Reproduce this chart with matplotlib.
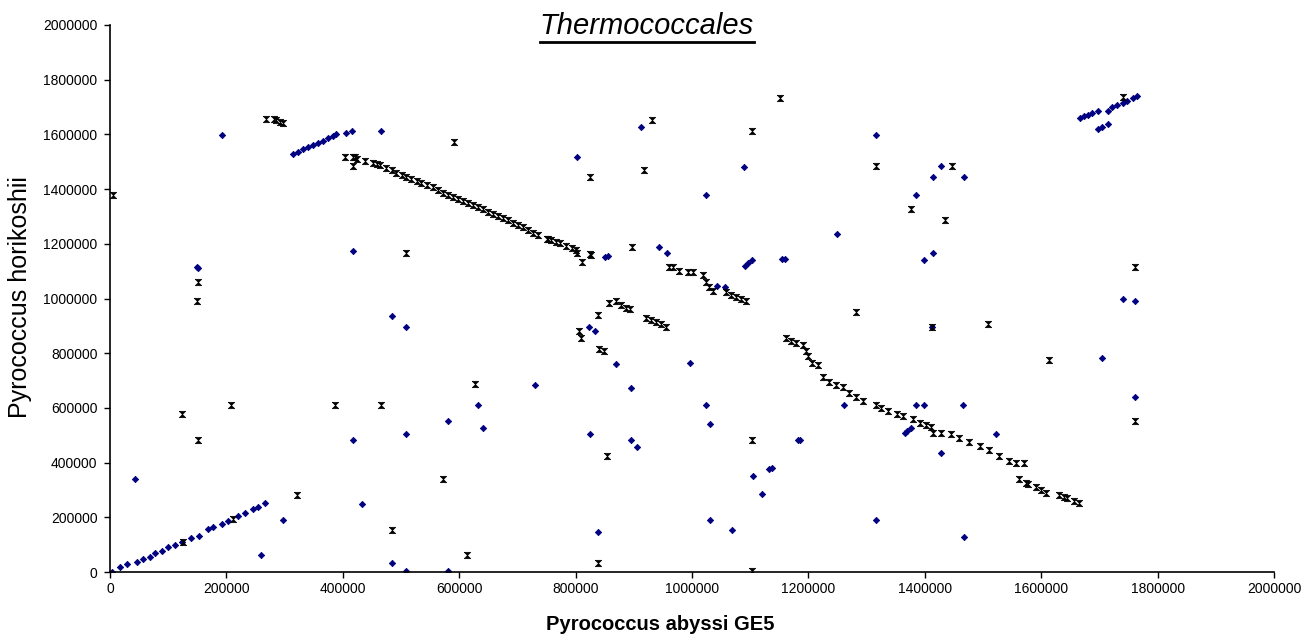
import matplotlib
matplotlib.use("Agg")
import matplotlib.pyplot as plt
from matplotlib.lines import Line2D

plt.rcParams['font.family'] = ['Liberation Sans', 'DejaVu Sans']

# Blue series (diamond markers): position in P. abyssi GE5 vs P. horikoshii
blue_x = [3000, 17000, 29000, 46000, 57000, 69000, 77000, 89000, 100000, 112000,
          123000, 140000, 153000, 169000, 177000, 192000, 203000, 220000, 232000, 246000,
          255000, 267000,
          315000, 323000, 332000, 340000, 349000, 358000, 366000, 375000, 383000, 388000,
          406000, 416000, 466000, 193000, 43000, 150000, 152000,
          417000, 484000, 508000, 731000, 632000, 580000, 641000, 508000, 417000, 433000,
          297000, 260000, 484000, 508000, 580000,
          802000, 912000, 1089000, 1024000, 1317000, 1428000, 1414000, 1468000, 1385000,
          1250000, 1414000, 1398000, 944000, 957000, 850000, 855000, 1091000, 1096000,
          1103000, 1154000, 1160000, 1043000, 1056000, 823000, 833000, 1412000, 869000,
          997000, 896000, 1024000, 1031000, 1261000, 1385000, 1398000, 1466000, 1366000,
          1370000, 1376000, 825000, 896000, 905000, 1182000, 1186000, 1428000, 1104000,
          1133000, 1138000, 1120000, 1031000, 1069000, 838000, 1316000, 1468000,
          1667000, 1674000, 1681000, 1688000, 1698000, 1714000, 1722000, 1731000, 1740000,
          1748000, 1757000, 1765000, 1698000, 1705000, 1714000,
          1704000, 1740000, 1761000, 1761000, 1522000]
blue_y = [1000, 17000, 28000, 38000, 46000, 56000, 68000, 78000, 90000, 99000,
          111000, 123000, 132000, 156000, 166000, 176000, 188000, 205000, 217000, 229000,
          239000, 253000,
          1528000, 1537000, 1545000, 1553000, 1561000, 1570000, 1577000, 1586000, 1594000, 1600000,
          1606000, 1614000, 1614000, 1598000, 339000, 1116000, 1112000,
          1174000, 936000, 897000, 684000, 611000, 553000, 525000, 505000, 483000, 249000,
          190000, 62000, 34000, 5000, 5000,
          1517000, 1627000, 1479000, 1378000, 1598000, 1484000, 1445000, 1445000, 1378000,
          1236000, 1165000, 1141000, 1189000, 1165000, 1150000, 1157000, 1119000, 1131000,
          1141000, 1144000, 1144000, 1047000, 1043000, 895000, 882000, 895000, 759000,
          763000, 673000, 611000, 540000, 611000, 611000, 611000, 611000, 509000,
          517000, 525000, 506000, 483000, 458000, 483000, 483000, 434000, 352000,
          377000, 381000, 286000, 190000, 152000, 147000, 190000, 128000,
          1661000, 1667000, 1672000, 1679000, 1687000, 1687000, 1699000, 1707000, 1716000,
          1723000, 1732000, 1740000, 1620000, 1628000, 1638000,
          784000, 997000, 992000, 639000, 506000]

# Black series (x markers)
black_x = [126000, 211000, 6000, 268000, 282000, 285000, 292000, 298000, 591000,
           403000, 417000, 421000, 425000, 417000, 439000,
           452000, 458000, 464000, 475000, 484000, 492000, 501000, 509000, 518000, 527000,
           535000, 544000, 555000, 564000, 572000, 581000, 589000, 598000, 607000, 615000,
           624000, 632000, 641000, 649000, 658000, 667000, 675000, 684000, 692000, 701000,
           710000, 718000, 727000, 735000, 753000,
           750000, 758000, 767000, 774000, 784000, 793000, 800000, 802000, 811000, 824000, 827000,
           508000, 152000, 150000, 628000, 208000, 387000, 466000, 123000, 152000, 573000,
           321000, 484000, 613000,
           1152000, 931000, 1103000, 825000, 917000, 1316000, 1446000, 1376000, 1434000,
           897000, 1282000, 1508000, 838000, 806000, 809000, 840000, 848000, 854000,
           1103000, 838000, 1103000, 1414000, 1428000, 1412000,
           960000, 967000, 977000, 993000, 1001000, 1019000, 1024000, 1030000, 1036000,
           1059000, 1067000, 1076000, 1084000, 1093000,
           858000, 870000, 878000, 887000, 894000, 921000, 930000, 939000, 947000, 956000,
           1162000, 1170000, 1179000, 1190000, 1196000, 1199000, 1207000, 1216000, 1225000,
           1236000, 1248000, 1259000, 1270000, 1282000, 1293000, 1316000, 1325000, 1336000,
           1353000, 1362000, 1379000, 1391000, 1402000, 1411000, 1445000, 1459000, 1476000,
           1494000, 1511000, 1528000, 1545000, 1557000, 1571000, 1561000, 1574000, 1578000,
           1591000, 1599000, 1608000, 1631000, 1639000, 1645000, 1657000, 1665000,
           1741000, 1614000, 1761000, 1761000]
black_y = [111000, 193000, 1378000, 1656000, 1655000, 1653000, 1645000, 1643000, 1571000,
           1518000, 1518000, 1516000, 1511000, 1485000, 1504000,
           1497000, 1492000, 1487000, 1476000, 1470000, 1460000, 1453000, 1445000, 1438000, 1431000,
           1423000, 1414000, 1406000, 1397000, 1387000, 1380000, 1372000, 1365000, 1355000, 1348000,
           1342000, 1333000, 1326000, 1317000, 1309000, 1302000, 1294000, 1287000, 1277000, 1268000,
           1260000, 1250000, 1241000, 1231000, 1216000,
           1219000, 1214000, 1205000, 1202000, 1193000, 1186000, 1177000, 1165000, 1135000, 1163000, 1160000,
           1165000, 1059000, 992000, 687000, 611000, 611000, 611000, 578000, 483000, 339000,
           282000, 154000, 62000,
           1732000, 1651000, 1614000, 1445000, 1470000, 1484000, 1484000, 1327000, 1288000,
           1189000, 949000, 907000, 940000, 882000, 854000, 817000, 807000, 425000,
           483000, 34000, 5000, 507000, 507000, 895000,
           1116000, 1114000, 1102000, 1098000, 1098000, 1086000, 1062000, 1043000, 1028000,
           1023000, 1013000, 1007000, 998000, 992000,
           982000, 991000, 976000, 966000, 960000, 930000, 921000, 913000, 906000, 897000,
           854000, 846000, 836000, 830000, 809000, 790000, 763000, 757000, 714000,
           696000, 684000, 675000, 656000, 641000, 626000, 611000, 598000, 589000,
           578000, 570000, 558000, 546000, 537000, 529000, 505000, 489000, 476000,
           461000, 446000, 424000, 407000, 397000, 397000, 339000, 324000, 321000,
           310000, 300000, 288000, 282000, 275000, 272000, 261000, 251000,
           1735000, 775000, 1116000, 553000]

x_ticks = list(range(0, 2000001, 200000))
y_ticks = list(range(0, 2000001, 200000))

fig = plt.figure(figsize=(13.01, 6.39), dpi=100)
ax = fig.add_axes([110 / 1301, 67 / 639, 1164 / 1301, 547 / 639])

bowtie = [(-1, 1), (1, 1), (-1, -1), (1, -1), (-1, 1)]
ax.plot(blue_x, blue_y, linestyle='none', marker='D', markersize=3.2,
        color='#000080', markeredgewidth=0.6)
ax.plot(black_x, black_y, linestyle='none', marker=bowtie, markersize=4.6,
        color='black', markeredgewidth=0.5)

ax.set_xlim(0, 2000000)
ax.set_ylim(0, 2000000)
ax.set_xticks(x_ticks)
ax.set_yticks(y_ticks)
ax.set_xticklabels([str(v) for v in x_ticks])
ax.set_yticklabels([str(v) for v in y_ticks])
ax.tick_params(direction='out', length=4, width=1, labelsize=10, pad=3)
ax.tick_params(axis='y', pad=5)
for side in ('top', 'right'):
    ax.spines[side].set_visible(False)
for side in ('left', 'bottom'):
    ax.spines[side].set_linewidth(1.2)
    ax.spines[side].set_clip_on(False)

fig.text(660 / 1301, 1 - 625 / 639, 'Pyrococcus abyssi GE5', fontsize=14.5,
         fontweight='bold', ha='center', va='center')
fig.text(20 / 1301, 1 - 297 / 639, 'Pyrococcus horikoshii', rotation=90,
         fontsize=18, ha='center', va='center')

title = fig.text(647 / 1301, 1 - 26 / 639, 'Thermococcales', fontsize=21,
                 style='italic', ha='center', va='center')
fig.canvas.draw()
bb = title.get_window_extent().transformed(fig.transFigure.inverted())
fig.add_artist(Line2D([bb.x0, bb.x1], [bb.y0 - 0.003, bb.y0 - 0.003],
                      transform=fig.transFigure, color='black', linewidth=2))

fig.savefig('out.png', dpi=100)
